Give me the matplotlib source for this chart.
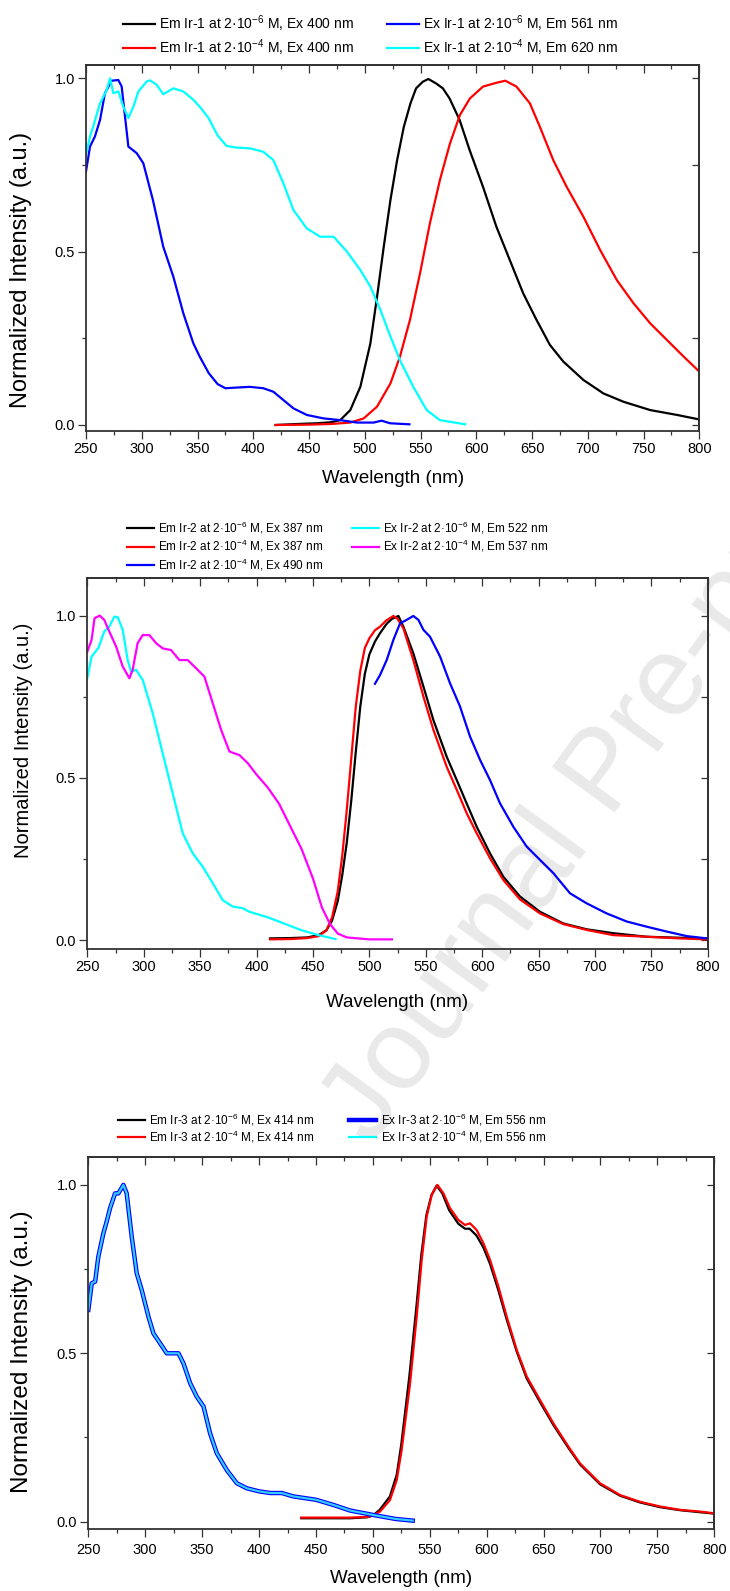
import numpy as np
import matplotlib
matplotlib.use("Agg")
import matplotlib.pyplot as plt
from matplotlib.ticker import MultipleLocator, FormatStrFormatter

# Fonts: Arial-like text, mathtext superscripts in the same family
plt.rcParams["font.family"] = ["Liberation Sans", "DejaVu Sans"]
plt.rcParams["mathtext.fontset"] = "custom"
plt.rcParams["mathtext.rm"] = "Liberation Sans"
plt.rcParams["mathtext.it"] = "Liberation Sans:italic"
plt.rcParams["mathtext.bf"] = "Liberation Sans:bold"
plt.rcParams["mathtext.default"] = "regular"

# ---------------- Panel 1 : Ir-1 ----------------
em1_lo_wl = [420, 440, 457, 470, 478, 487, 496, 505, 511, 517, 523, 529, 535, 541, 546, 552, 557, 564,
             570, 576, 585, 594, 606, 618, 630, 642, 654, 666, 678, 696, 714, 732, 756, 780, 800]
em1_lo_v = [0.0, 0.003, 0.005, 0.008, 0.014, 0.043, 0.11, 0.235, 0.37, 0.514, 0.649, 0.764, 0.86, 0.928,
            0.971, 0.99, 0.998, 0.985, 0.971, 0.942, 0.88, 0.793, 0.687, 0.572, 0.476, 0.38, 0.303, 0.231,
            0.183, 0.13, 0.091, 0.067, 0.043, 0.029, 0.016]
em1_hi_wl = [420, 450, 470, 487, 499, 511, 523, 531.5, 540.5, 549.5, 558.4, 567.4, 576.4, 585.3, 594.3,
             606, 618, 626, 636, 648, 657, 669, 681, 696, 711, 726, 741, 756, 771, 786, 800]
em1_hi_v = [0.0, 0.001, 0.003, 0.007, 0.019, 0.053, 0.12, 0.197, 0.303, 0.437, 0.582, 0.707, 0.812, 0.894,
            0.942, 0.976, 0.987, 0.993, 0.976, 0.928, 0.86, 0.764, 0.687, 0.601, 0.505, 0.418, 0.351, 0.293,
            0.245, 0.197, 0.154]
ex1_lo_wl = [250, 253.6, 258, 262.6, 267, 273, 279, 282, 285, 288, 295.5, 301.4, 310, 319.3, 328.3, 337.3,
             346.2, 352, 360, 368, 375, 385, 397, 409, 418, 427, 436, 448, 463, 478, 493, 508, 515, 522.6, 540]
ex1_lo_v = [0.731, 0.803, 0.832, 0.88, 0.957, 0.993, 0.995, 0.976, 0.889, 0.803, 0.784, 0.755, 0.649, 0.514,
            0.428, 0.322, 0.236, 0.197, 0.15, 0.118, 0.106, 0.108, 0.11, 0.106, 0.096, 0.072, 0.048, 0.029,
            0.019, 0.014, 0.007, 0.007, 0.0125, 0.005, 0.002]
ex1_hi_wl = [250, 253.6, 256.5, 262.6, 268.6, 271.6, 274.5, 279, 283.5, 288, 292.5, 297, 304.5, 307.5, 313.4,
             319.3, 328.3, 337.3, 346.2, 352, 360, 368, 376, 385, 397, 409, 418, 427, 436, 448, 460, 472, 484,
             496, 505, 514, 523, 531.5, 543.5, 555.5, 567.4, 590]
ex1_hi_v = [0.78, 0.832, 0.861, 0.928, 0.966, 1.0, 0.957, 0.962, 0.918, 0.885, 0.918, 0.962, 0.991, 0.994,
            0.981, 0.954, 0.971, 0.962, 0.938, 0.918, 0.885, 0.835, 0.805, 0.8, 0.798, 0.788, 0.764, 0.697,
            0.62, 0.567, 0.543, 0.543, 0.5, 0.447, 0.399, 0.332, 0.255, 0.187, 0.11, 0.043, 0.014, 0.002]

# ---------------- Panel 2 : Ir-2 ----------------
em2_lo_wl = [412, 430, 445, 455, 462, 467, 472, 476, 480, 484, 488, 492, 496, 500, 505, 509.5, 515.4, 520,
             525.8, 530.2, 539, 548, 556.8, 568.6, 577.5, 586.3, 595.2, 607, 618.8, 633.6, 651.3, 672, 692.7,
             716.4, 746, 775.5, 799]
em2_lo_v = [0.005, 0.006, 0.008, 0.015, 0.03, 0.06, 0.12, 0.2, 0.3, 0.43, 0.58, 0.72, 0.82, 0.88, 0.92,
            0.946, 0.975, 0.99, 0.999, 0.966, 0.884, 0.781, 0.678, 0.565, 0.493, 0.421, 0.349, 0.267, 0.195,
            0.134, 0.087, 0.051, 0.033, 0.021, 0.010, 0.007, 0.005]
em2_hi_wl = [412, 430, 445, 455, 462, 467, 472, 476, 480, 484, 488, 492, 496, 500, 505, 509.5, 515, 521.3,
             525, 530.2, 539, 548, 556.8, 568.6, 577.5, 586.3, 595.2, 607, 618.8, 633.6, 651.3, 672, 692.7,
             716.4, 746, 775, 799]
em2_hi_v = [0.002, 0.003, 0.006, 0.012, 0.03, 0.07, 0.15, 0.26, 0.4, 0.56, 0.72, 0.83, 0.9, 0.93, 0.955,
            0.966, 0.985, 0.999, 0.99, 0.961, 0.863, 0.75, 0.648, 0.534, 0.463, 0.391, 0.329, 0.252, 0.185,
            0.125, 0.082, 0.049, 0.031, 0.015, 0.010, 0.005, 0.002]
em2_b_wl = [505, 509.5, 515.4, 521.3, 527.2, 533.1, 539, 543.5, 548, 553.8, 562.7, 571.6, 580.4, 589.3,
            598.2, 607, 615.9, 627.7, 639.5, 651.3, 663.2, 677.9, 692.7, 710.4, 728.2, 746, 763.7, 781.5, 799.2]
em2_b_v = [0.79, 0.817, 0.863, 0.925, 0.976, 0.987, 0.999, 0.987, 0.956, 0.935, 0.874, 0.791, 0.72, 0.627,
           0.555, 0.493, 0.421, 0.349, 0.288, 0.247, 0.206, 0.144, 0.113, 0.082, 0.057, 0.041, 0.026, 0.012,
           0.005]
ex2_lo_wl = [250, 253.8, 259.8, 265, 269.5, 274, 277, 281.4, 285.8, 288.8, 293.2, 299.1, 308, 316.8, 325.7,
             334.6, 343.5, 352.3, 361.2, 370, 379, 387.8, 393.7, 410, 425, 440, 455, 470]
ex2_lo_v = [0.807, 0.874, 0.9, 0.951, 0.966, 0.997, 0.995, 0.956, 0.863, 0.827, 0.833, 0.802, 0.699, 0.576,
            0.452, 0.329, 0.267, 0.226, 0.175, 0.123, 0.103, 0.098, 0.087, 0.07, 0.05, 0.03, 0.015, 0.003]
ex2_hi_wl = [250, 253.8, 256.4, 261, 265, 269.5, 275.5, 281.4, 287.3, 290.2, 294.6, 299.1, 305, 311, 316.8,
             324.2, 331.6, 339, 346.4, 353.8, 361.2, 368.6, 376, 384.9, 392.3, 400, 410, 420, 430, 440, 450,
             458, 465, 472, 480, 500, 520]
ex2_hi_v = [0.889, 0.925, 0.992, 1.0, 0.987, 0.951, 0.905, 0.843, 0.807, 0.833, 0.915, 0.94, 0.94, 0.915,
            0.899, 0.894, 0.863, 0.863, 0.838, 0.812, 0.73, 0.648, 0.581, 0.570, 0.545, 0.51, 0.47, 0.42,
            0.35, 0.28, 0.19, 0.1, 0.05, 0.02, 0.008, 0.002, 0.002]

# ---------------- Panel 3 : Ir-3 ----------------
em3_lo_wl = [437, 460, 480, 495, 500, 506, 515, 521, 525, 532, 538, 542.5, 547, 551.5, 556, 561, 567, 575,
             581, 585, 591, 597, 603, 610, 617.6, 626.4, 635.2, 646.9, 658.6, 671.8, 682, 699.6, 717.2, 734.7,
             752.3, 769.9, 787.4, 799.2]
em3_lo_v = [0.01, 0.01, 0.01, 0.013, 0.018, 0.035, 0.075, 0.14, 0.23, 0.43, 0.63, 0.79, 0.91, 0.97, 0.998,
            0.975, 0.925, 0.885, 0.87, 0.87, 0.85, 0.815, 0.765, 0.69, 0.6, 0.505, 0.425, 0.355, 0.287, 0.219,
            0.17, 0.111, 0.077, 0.057, 0.043, 0.034, 0.028, 0.024]
em3_hi_wl = [437, 460, 480, 495, 500, 506.3, 515, 521, 525.3, 532.7, 538.5, 542.9, 547.3, 551.7, 556.7, 562,
             567.8, 575.1, 581, 585.4, 591.2, 597.1, 603, 610.3, 617.6, 626.4, 635.2, 646.9, 658.6, 671.8, 682,
             699.6, 717.2, 734.7, 752.3, 769.9, 787.4, 799.2]
em3_hi_v = [0.012, 0.012, 0.012, 0.014, 0.018, 0.03, 0.064, 0.124, 0.213, 0.411, 0.609, 0.777, 0.906, 0.97,
            1.0, 0.975, 0.931, 0.896, 0.881, 0.886, 0.866, 0.827, 0.777, 0.698, 0.609, 0.51, 0.431, 0.361,
            0.292, 0.223, 0.173, 0.114, 0.079, 0.059, 0.045, 0.035, 0.03, 0.025]
ex3_lo_wl = [250, 253, 256, 258.8, 263.2, 266.1, 269.1, 273.5, 276.4, 280.8, 283.7, 288.1, 292.5, 296.9,
             302.8, 307.2, 313, 318.9, 323.3, 329.2, 333.6, 339.5, 345.3, 351.2, 357, 362.9, 371.7, 380.5,
             389.3, 400, 410, 420, 430, 450, 465, 480, 500, 520, 535]
ex3_lo_v = [0.629, 0.708, 0.713, 0.787, 0.856, 0.891, 0.931, 0.975, 0.975, 1.0, 0.975, 0.847, 0.738, 0.688,
            0.609, 0.559, 0.53, 0.5, 0.5, 0.5, 0.47, 0.411, 0.371, 0.342, 0.262, 0.203, 0.153, 0.114, 0.099,
            0.09, 0.085, 0.085, 0.075, 0.065, 0.05, 0.033, 0.02, 0.008, 0.003]
# the two excitation spectra of Ir-3 lie on top of each other
ex3_hi_wl = ex3_lo_wl
ex3_hi_v = ex3_lo_v

sup6 = "2\u00b710$^{-6}$ M"
sup4 = "2\u00b710$^{-4}$ M"


def style_axis(ax, ylim, ylab_size, ylab_y, xlab_pad, tick_pad):
    ax.set_xlim(250, 800)
    ax.set_ylim(*ylim)
    ax.set_facecolor("none")
    ax.set_xticks(np.arange(250, 801, 50))
    ax.set_yticks([0.0, 0.5, 1.0])
    ax.xaxis.set_minor_locator(MultipleLocator(25))
    ax.yaxis.set_minor_locator(MultipleLocator(0.25))
    ax.yaxis.set_major_formatter(FormatStrFormatter("%.1f"))
    for sp in ax.spines.values():
        sp.set_linewidth(1.3)
        sp.set_color("#333333")
    ax.tick_params(which="both", direction="out", width=0.9, color="#333333", labelsize=10.5)
    ax.tick_params(which="major", length=5.5)
    ax.tick_params(which="minor", length=3)
    ax.tick_params(axis="y", pad=2.5)
    ax.tick_params(axis="x", pad=tick_pad)

    # inward ticks on top and right, like Origin
    top = ax.secondary_xaxis("top")
    top.set_xticks(np.arange(250, 801, 50))
    top.xaxis.set_minor_locator(MultipleLocator(25))
    top.tick_params(which="both", direction="in", width=0.9, color="#333333", labeltop=False)
    top.tick_params(which="major", length=5.5)
    top.tick_params(which="minor", length=3)
    right = ax.secondary_yaxis("right")
    right.set_yticks(np.arange(0, 1.01, 0.25))
    right.tick_params(direction="in", width=0.9, length=5, color="#333333", labelright=False)
    for sec in (top, right):
        for sp in sec.spines.values():
            sp.set_linewidth(1.3)
            sp.set_color("#333333")

    ax.set_xlabel("Wavelength (nm)", fontsize=13.5, labelpad=xlab_pad)
    ax.set_ylabel("Normalized Intensity (a.u.)", fontsize=ylab_size)
    ax.yaxis.set_label_coords(-0.088, ylab_y)


fig = plt.figure(figsize=(7.30, 15.91), dpi=100)

ax1 = fig.add_axes([0.1178, 0.7293, 0.958 - 0.1178, 0.9593 - 0.7293])
ax2 = fig.add_axes([0.1196, 0.4035, 0.9695 - 0.1196, 0.6365 - 0.4035])
ax3 = fig.add_axes([0.1210, 0.0390, 0.9785 - 0.1210, 0.2730 - 0.0390])

lw = 1.6

# Panel 1
ax1.plot(em1_lo_wl, em1_lo_v, color="black", lw=lw, label="Em Ir-1 at " + sup6 + ", Ex 400 nm")
ax1.plot(em1_hi_wl, em1_hi_v, color="red", lw=lw, label="Em Ir-1 at " + sup4 + ", Ex 400 nm")
ax1.plot(ex1_lo_wl, ex1_lo_v, color="blue", lw=lw, label="Ex Ir-1 at " + sup6 + ", Em 561 nm")
ax1.plot(ex1_hi_wl, ex1_hi_v, color="cyan", lw=lw, label="Ex Ir-1 at " + sup4 + ", Em 620 nm")
style_axis(ax1, (-0.0164, 1.039), 17, 0.44, 10, 2.5)
ax1.legend(loc="upper left", bbox_to_anchor=(0.1685, 0.9915), bbox_transform=fig.transFigure, ncol=2,
           frameon=False, fontsize=10, handlelength=2.3, handletextpad=0.3, columnspacing=2.4,
           labelspacing=0.2, borderpad=0, borderaxespad=0)

# Panel 2
ax2.plot(em2_lo_wl, em2_lo_v, color="black", lw=lw, label="Em Ir-2 at " + sup6 + ", Ex 387 nm")
ax2.plot(em2_hi_wl, em2_hi_v, color="red", lw=lw, label="Em Ir-2 at " + sup4 + ", Ex 387 nm")
ax2.plot(em2_b_wl, em2_b_v, color="blue", lw=lw, label="Em Ir-2 at " + sup4 + ", Ex 490 nm")
ax2.plot(ex2_lo_wl, ex2_lo_v, color="cyan", lw=lw, label="Ex Ir-2 at " + sup6 + ", Em 522 nm")
ax2.plot(ex2_hi_wl, ex2_hi_v, color="magenta", lw=lw, label="Ex Ir-2 at " + sup4 + ", Em 537 nm")
style_axis(ax2, (-0.0278, 1.115), 14.5, 0.563, 14, 2.5)
ax2.legend(loc="upper left", bbox_to_anchor=(0.174, 0.6735), bbox_transform=fig.transFigure, ncol=2,
           frameon=False, fontsize=8.5, handlelength=2.3, handletextpad=0.35, columnspacing=2.4,
           labelspacing=0.2, borderpad=0, borderaxespad=0)

# Panel 3
ax3.plot(em3_lo_wl, em3_lo_v, color="black", lw=lw, label="Em Ir-3 at " + sup6 + ", Ex 414 nm")
ax3.plot(em3_hi_wl, em3_hi_v, color="red", lw=lw, label="Em Ir-3 at " + sup4 + ", Ex 414 nm")
ax3.plot(ex3_lo_wl, ex3_lo_v, color="blue", lw=3.2, label="Ex Ir-3 at " + sup6 + ", Em 556 nm")
ax3.plot(ex3_hi_wl, ex3_hi_v, color="#33ccff", lw=1.6, label="Ex Ir-3 at " + sup4 + ", Em 556 nm")
style_axis(ax3, (-0.0217, 1.084), 17.5, 0.475, 9.5, 4.5)
leg3 = ax3.legend(loc="upper left", bbox_to_anchor=(0.1616, 0.3015), bbox_transform=fig.transFigure,
                  ncol=2, frameon=False, fontsize=8.5, handlelength=2.3, handletextpad=0.35,
                  columnspacing=2.95, labelspacing=0.1, borderpad=0, borderaxespad=0)
leg3.get_lines()[3].set_color("cyan")

# Watermark of the journal, behind everything
fig.text(0.831, 0.5135, "Journal Pre-proof", rotation=54, rotation_mode="anchor", ha="center", va="center",
         fontsize=82, color="#e9e9e9", zorder=-1)

fig.savefig("out.png", dpi=100)
